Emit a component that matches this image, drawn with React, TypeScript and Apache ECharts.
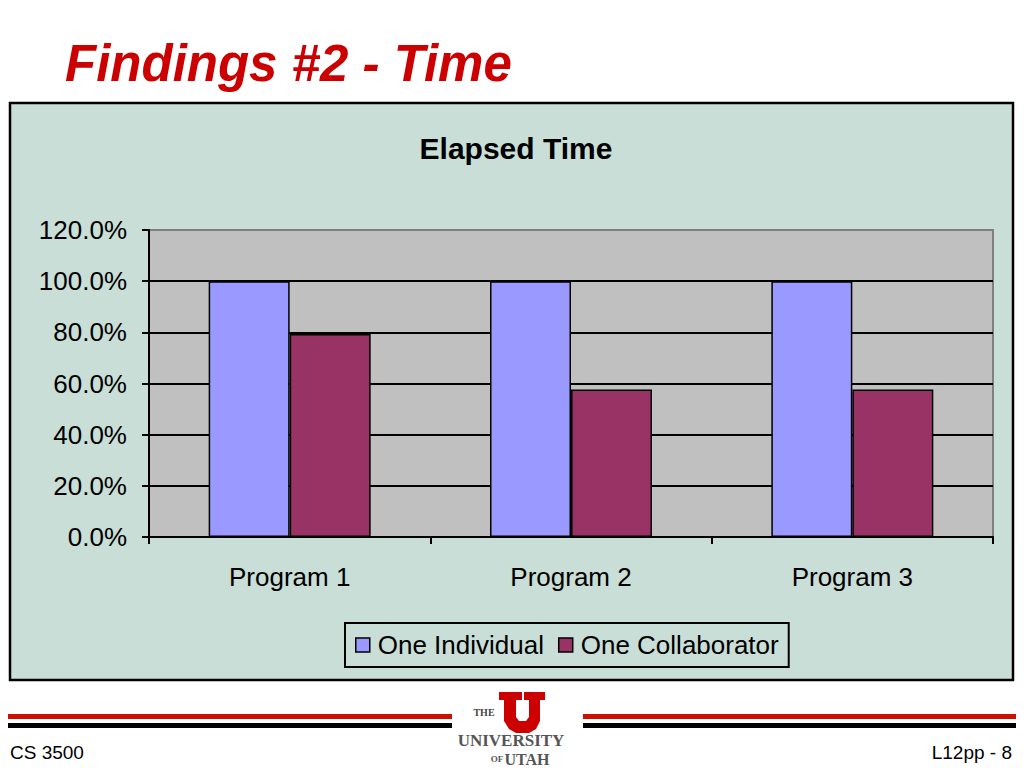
import React, { useEffect, useRef } from "react";
import * as echarts from "echarts";

const categories = ["Program 1", "Program 2", "Program 3"];
const individual = [1.0, 1.0, 1.0];
const collaborator = [0.793, 0.577, 0.577];
const seriesNames = ["One Individual", "One Collaborator"];
const yTicks = { min: 0, max: 1.2, interval: 0.2 };

const FONT = "'Liberation Sans', Arial, Helvetica, sans-serif";
const SERIF = "'Liberation Serif', 'DejaVu Serif', serif";

export default function App() {
  const ref = useRef<HTMLDivElement>(null);
  useEffect(() => {
    if (!ref.current) return;
    const chart = echarts.init(ref.current, undefined, { renderer: "svg" });
    const uPoints = [
      [499, 692], [522, 692], [522, 700], [516, 700], [516, 717], [519, 721],
      [526, 721], [529, 717], [529, 700], [524, 700], [524, 692], [545, 692],
      [545, 700], [540, 700], [540, 721], [536, 729], [529, 733], [516, 733],
      [509, 729], [504, 721], [504, 700], [499, 700],
    ];
    chart.setOption({
      animation: false,
      backgroundColor: "#ffffff",
      title: {
        text: "Elapsed Time",
        left: 511,
        top: 128,
        textAlign: "center",
        textStyle: { fontFamily: FONT, fontSize: 30, fontWeight: "bold", color: "#000" },
      },
      graphic: [
        {
          type: "rect",
          z: -10,
          shape: { x: 10, y: 103, width: 1003, height: 577 },
          style: { fill: "#C9DED6", stroke: "#000", lineWidth: 2.5 },
        },
        {
          type: "text",
          x: 65,
          y: 38,
          style: {
            text: "Findings #2 - Time",
            font: `italic bold 51px ${FONT}`,
            fill: "#CC0000",
          },
        },
        { type: "rect", shape: { x: 8, y: 714, width: 444, height: 5 }, style: { fill: "#CC1100" } },
        { type: "rect", shape: { x: 8, y: 723, width: 444, height: 5 }, style: { fill: "#000" } },
        { type: "rect", shape: { x: 583, y: 714, width: 433, height: 5 }, style: { fill: "#CC1100" } },
        { type: "rect", shape: { x: 583, y: 723, width: 433, height: 5 }, style: { fill: "#000" } },
        { type: "polygon", shape: { points: uPoints }, style: { fill: "#CC0000" } },
        {
          type: "text", x: 484, y: 712,
          style: { text: "THE", font: `bold 10px ${SERIF}`, fill: "#444", align: "center", verticalAlign: "middle" },
        },
        {
          type: "text", x: 511, y: 740,
          style: { text: "UNIVERSITY", font: `bold 17px ${SERIF}`, fill: "#555", align: "center", verticalAlign: "middle" },
        },
        {
          type: "text", x: 497, y: 759,
          style: { text: "OF", font: `bold 9px ${SERIF}`, fill: "#555", align: "center", verticalAlign: "middle" },
        },
        {
          type: "text", x: 527, y: 759,
          style: { text: "UTAH", font: `bold 16px ${SERIF}`, fill: "#555", align: "center", verticalAlign: "middle" },
        },
        {
          type: "text", x: 10, y: 752,
          style: { text: "CS 3500", font: `19px ${FONT}`, fill: "#000", verticalAlign: "middle" },
        },
        {
          type: "text", x: 1012, y: 752,
          style: { text: "L12pp - 8", font: `19px ${FONT}`, fill: "#000", align: "right", verticalAlign: "middle" },
        },
      ],
      grid: {
        left: 149,
        right: 31,
        top: 230,
        bottom: 231,
        show: true,
        backgroundColor: "#C0C0C0",
        borderColor: "#808080",
        borderWidth: 2,
      },
      legend: {
        left: 345,
        top: 623,
        orient: "horizontal",
        borderColor: "#000",
        borderWidth: 2,
        padding: [9, 10, 9, 10],
        itemGap: 14,
        itemWidth: 14,
        itemHeight: 14,
        icon: "rect",
        itemStyle: { borderColor: "#000", borderWidth: 1.5 },
        textStyle: { fontFamily: FONT, fontSize: 26, color: "#000", padding: [0, 0, 0, 3] },
        data: seriesNames,
      },
      xAxis: {
        type: "category",
        data: categories,
        axisLine: { show: true, lineStyle: { color: "#000", width: 2 } },
        axisTick: { show: true, length: 7, lineStyle: { color: "#000", width: 2 } },
        axisLabel: { fontFamily: FONT, fontSize: 26, color: "#000", margin: 27 },
        splitLine: { show: false },
      },
      yAxis: {
        type: "value",
        min: yTicks.min,
        max: yTicks.max,
        interval: yTicks.interval,
        axisLine: { show: true, lineStyle: { color: "#000", width: 2 } },
        axisTick: { show: true, length: 7, lineStyle: { color: "#000", width: 2 } },
        axisLabel: {
          fontFamily: FONT,
          fontSize: 26,
          color: "#000",
          margin: 22,
          formatter: (v: number) => (v * 100).toFixed(1) + "%",
        },
        splitLine: {
          show: true,
          lineStyle: {
            color: ["#000", "#000", "#000", "#000", "#000", "#000", "#808080"],
            width: 2,
          },
        },
      },
      series: [
        {
          name: seriesNames[0],
          type: "bar",
          data: individual,
          barWidth: 81,
          barGap: "0%",
          itemStyle: { color: "#9999FF", borderColor: "#000", borderWidth: 1.5 },
        },
        {
          name: seriesNames[1],
          type: "bar",
          data: collaborator,
          barWidth: 81,
          barGap: "0%",
          itemStyle: { color: "#993366", borderColor: "#000", borderWidth: 1.5 },
        },
      ],
    });
    return () => chart.dispose();
  }, []);
  return (
    <div
      ref={ref}
      style={{ position: "fixed", left: 0, top: 0, width: 1024, height: 768 }}
    />
  );
}
